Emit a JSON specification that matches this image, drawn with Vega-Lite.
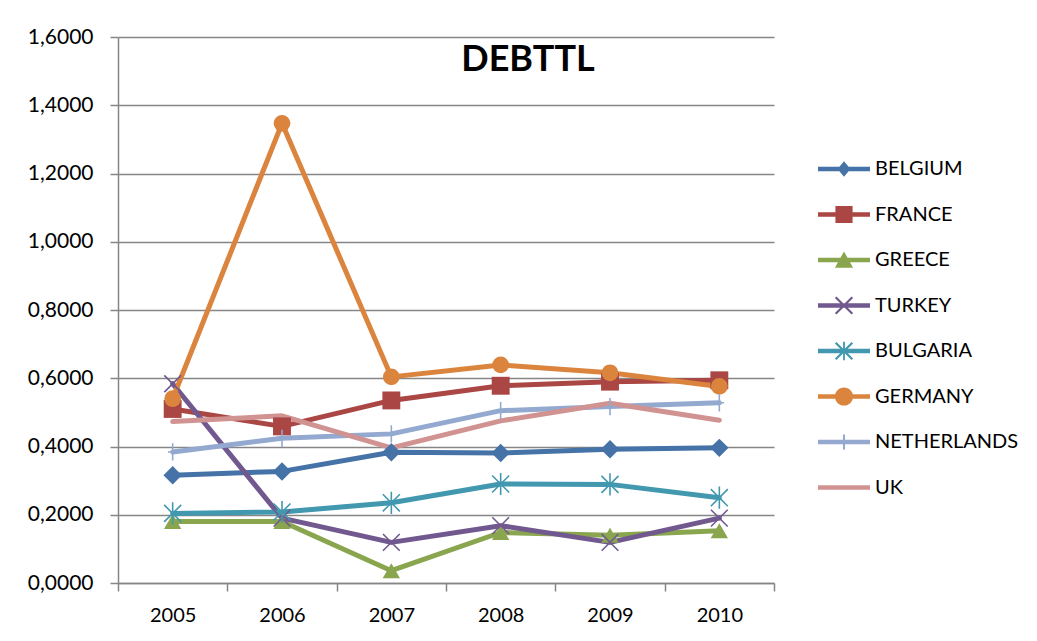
{
  "$schema": "https://vega.github.io/schema/vega-lite/v6.json",
  "width": 656,
  "height": 546,
  "autosize": {"type": "none"},
  "padding": {"left": 118, "top": 37, "right": 263, "bottom": 58},
  "background": "white",
  "title": {
    "text": "DEBTTL",
    "font": "Lato",
    "fontSize": 36,
    "fontWeight": "bold",
    "color": "black",
    "anchor": "middle",
    "frame": "group",
    "dx": 82,
    "baseline": "alphabetic",
    "offset": -81
  },
  "config": {
    "font": "Lato",
    "view": {"stroke": null},
    "axis": {
      "labelFont": "Lato",
      "labelFontSize": 20,
      "labelColor": "black",
      "domainColor": "#868686",
      "domainWidth": 1.5,
      "tickColor": "#868686",
      "tickWidth": 1.5,
      "tickSize": 8,
      "gridColor": "#868686",
      "gridWidth": 1.5,
      "title": null
    },
    "legend": {
      "title": null,
      "orient": "none",
      "legendX": 700,
      "legendY": 106,
      "padding": 0,
      "symbolSize": 2704,
      "symbolStrokeWidth": 0,
      "symbolOpacity": 1,
      "labelFont": "Lato",
      "labelFontSize": 20,
      "labelColor": "black",
      "labelOffset": 5,
      "rowPadding": 9.5,
      "labelLimit": 300
    }
  },
  "data": {
    "values": [
      {"country": "BELGIUM", "year": "2005", "value": 0.316},
      {"country": "BELGIUM", "year": "2006", "value": 0.327},
      {"country": "BELGIUM", "year": "2007", "value": 0.383},
      {"country": "BELGIUM", "year": "2008", "value": 0.381},
      {"country": "BELGIUM", "year": "2009", "value": 0.392},
      {"country": "BELGIUM", "year": "2010", "value": 0.396},
      {"country": "FRANCE", "year": "2005", "value": 0.510},
      {"country": "FRANCE", "year": "2006", "value": 0.459},
      {"country": "FRANCE", "year": "2007", "value": 0.535},
      {"country": "FRANCE", "year": "2008", "value": 0.578},
      {"country": "FRANCE", "year": "2009", "value": 0.590},
      {"country": "FRANCE", "year": "2010", "value": 0.594},
      {"country": "GREECE", "year": "2005", "value": 0.180},
      {"country": "GREECE", "year": "2006", "value": 0.180},
      {"country": "GREECE", "year": "2007", "value": 0.036},
      {"country": "GREECE", "year": "2008", "value": 0.148},
      {"country": "GREECE", "year": "2009", "value": 0.140},
      {"country": "GREECE", "year": "2010", "value": 0.153},
      {"country": "TURKEY", "year": "2005", "value": 0.584},
      {"country": "TURKEY", "year": "2006", "value": 0.190},
      {"country": "TURKEY", "year": "2007", "value": 0.119},
      {"country": "TURKEY", "year": "2008", "value": 0.168},
      {"country": "TURKEY", "year": "2009", "value": 0.119},
      {"country": "TURKEY", "year": "2010", "value": 0.190},
      {"country": "BULGARIA", "year": "2005", "value": 0.204},
      {"country": "BULGARIA", "year": "2006", "value": 0.208},
      {"country": "BULGARIA", "year": "2007", "value": 0.235},
      {"country": "BULGARIA", "year": "2008", "value": 0.290},
      {"country": "BULGARIA", "year": "2009", "value": 0.289},
      {"country": "BULGARIA", "year": "2010", "value": 0.250},
      {"country": "GERMANY", "year": "2005", "value": 0.540},
      {"country": "GERMANY", "year": "2006", "value": 1.347},
      {"country": "GERMANY", "year": "2007", "value": 0.604},
      {"country": "GERMANY", "year": "2008", "value": 0.639},
      {"country": "GERMANY", "year": "2009", "value": 0.616},
      {"country": "GERMANY", "year": "2010", "value": 0.576},
      {"country": "NETHERLANDS", "year": "2005", "value": 0.384},
      {"country": "NETHERLANDS", "year": "2006", "value": 0.424},
      {"country": "NETHERLANDS", "year": "2007", "value": 0.437},
      {"country": "NETHERLANDS", "year": "2008", "value": 0.505},
      {"country": "NETHERLANDS", "year": "2009", "value": 0.517},
      {"country": "NETHERLANDS", "year": "2010", "value": 0.528},
      {"country": "UK", "year": "2005", "value": 0.473},
      {"country": "UK", "year": "2006", "value": 0.490},
      {"country": "UK", "year": "2007", "value": 0.396},
      {"country": "UK", "year": "2008", "value": 0.475},
      {"country": "UK", "year": "2009", "value": 0.527},
      {"country": "UK", "year": "2010", "value": 0.477}
    ]
  },
  "encoding": {
    "x": {
      "field": "year",
      "type": "ordinal",
      "scale": {"type": "band", "paddingInner": 0, "paddingOuter": 0},
      "axis": {
        "labelAngle": 0,
        "tickBand": "extent",
        "labelPadding": 14,
        "grid": false
      }
    },
    "y": {
      "field": "value",
      "type": "quantitative",
      "scale": {"domain": [0, 1.6], "nice": false, "zero": true},
      "axis": {
        "values": [0, 0.2, 0.4, 0.6, 0.8, 1.0, 1.2, 1.4, 1.6],
        "labelExpr": "replace(format(datum.value, '.4f'), '.', ',')",
        "labelPadding": 17,
        "labelFontSize": 21,
        "grid": true
      }
    },
    "color": {
      "field": "country",
      "type": "nominal",
      "scale": {
        "domain": ["BELGIUM", "FRANCE", "GREECE", "TURKEY", "BULGARIA", "GERMANY", "NETHERLANDS", "UK"],
        "range": ["#4572A7", "#AA4643", "#89A54E", "#71588F", "#4198AF", "#DB843D", "#93A9CF", "#D19392"]
      },
      "legend": null
    }
  },
  "layer": [
    {
      "mark": {"type": "line", "strokeWidth": 5, "strokeCap": "round", "strokeJoin": "round"}
    },
    {
      "transform": [{"filter": {"field": "country", "oneOf": ["BELGIUM", "FRANCE", "GREECE", "GERMANY"]}}],
      "mark": {"type": "point", "filled": true, "opacity": 1, "strokeWidth": 0},
      "encoding": {
        "shape": {
          "field": "country",
          "type": "nominal",
          "scale": {
            "domain": ["BELGIUM", "FRANCE", "GREECE", "GERMANY"],
            "range": ["diamond", "square", "triangle-up", "circle"]
          },
          "legend": null
        },
        "size": {
          "field": "country",
          "type": "ordinal",
          "scale": {
            "domain": ["BELGIUM", "FRANCE", "GREECE", "GERMANY"],
            "range": [340, 280, 360, 420]
          },
          "legend": null
        }
      }
    },
    {
      "transform": [{"filter": {"field": "country", "oneOf": ["TURKEY", "BULGARIA", "NETHERLANDS"]}}],
      "mark": {"type": "point", "filled": false, "opacity": 1, "strokeWidth": 1.6},
      "encoding": {
        "shape": {
          "field": "country",
          "type": "nominal",
          "scale": {
            "domain": ["TURKEY", "BULGARIA", "NETHERLANDS"],
            "range": [
              "M-1,-1L1,1M1,-1L-1,1",
              "M-1,-1L1,1M1,-1L-1,1M0,-1.3L0,1.3",
              "M0,-1L0,1M-0.55,0L0.55,0"
            ]
          },
          "legend": null
        },
        "size": {
          "field": "country",
          "type": "ordinal",
          "scale": {
            "domain": ["TURKEY", "BULGARIA", "NETHERLANDS"],
            "range": [280, 300, 420]
          },
          "legend": null
        }
      }
    },
    {
      "transform": [{"filter": "false"}],
      "mark": {"type": "point", "filled": true, "opacity": 1},
      "encoding": {
        "color": {
          "field": "country",
          "type": "nominal",
          "scale": {
            "domain": ["BELGIUM", "FRANCE", "GREECE", "TURKEY", "BULGARIA", "GERMANY", "NETHERLANDS", "UK"],
            "range": ["#4572A7", "#AA4643", "#89A54E", "#71588F", "#4198AF", "#DB843D", "#93A9CF", "#D19392"]
          },
          "legend": {}
        },
        "shape": {
          "field": "country",
          "type": "nominal",
          "scale": {
            "domain": ["BELGIUM", "FRANCE", "GREECE", "TURKEY", "BULGARIA", "GERMANY", "NETHERLANDS", "UK"],
            "range": [
              "M-1,-0.09H1V0.09H-1ZM0,-0.3L0.25,0L0,0.3L-0.25,0Z",
              "M-1,-0.09H1V0.09H-1ZM-0.33,-0.33H0.33V0.33H-0.33Z",
              "M-1,-0.09H1V0.09H-1ZM0,-0.33L0.35,0.3H-0.35Z",
              "M-1,-0.09H1V0.09H-1ZM-0.29,-0.35L0.35,0.29L0.29,0.35L-0.35,-0.29ZM0.35,-0.29L-0.29,0.35L-0.35,0.29L0.29,-0.35Z",
              "M-1,-0.09H1V0.09H-1ZM-0.29,-0.35L0.35,0.29L0.29,0.35L-0.35,-0.29ZM0.35,-0.29L-0.29,0.35L-0.35,0.29L0.29,-0.35ZM-0.035,-0.36H0.035V0.36H-0.035Z",
              "M-1,-0.09H1V0.09H-1ZM-0.35,0A0.35,0.35 0 1,1 0.35,0A0.35,0.35 0 1,1 -0.35,0Z",
              "M-1,-0.09H1V0.09H-1ZM-0.04,-0.29H0.04V0.29H-0.04Z",
              "M-1,-0.09H1V0.09H-1Z"
            ]
          },
          "legend": {}
        }
      }
    }
  ],
  "resolve": {"scale": {"color": "independent", "shape": "independent", "size": "independent"}}
}
